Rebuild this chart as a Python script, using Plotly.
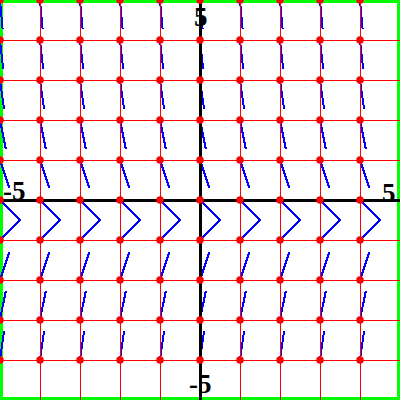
import plotly.graph_objects as go
import numpy as np

# Data
x_points = [-5, -4, -3, -2, -1, 0, 1, 2, 3, 4]
y_points = [5, 4, 3, 2, 1, 0, -1, -2, -3, -4]
slopes = [-11, -9, -7, -5, -3, -1, 1, 3, 5, 7]   # slope of field at each y row
seg_len = 0.74
grid_ticks = [-4, -3, -2, -1, 1, 2, 3, 4]
axis_labels = [("5", 0, 5), ("5", 5, 0), ("-5", -5, 0), ("-5", 0, -5)]

fig = go.Figure()

# direction-field segments
sx, sy = [], []
for y, m in zip(y_points, slopes):
    d = seg_len / np.sqrt(1 + m * m)
    for x in x_points:
        sx += [x, x + d, None]
        sy += [y, y + m * d, None]
fig.add_trace(go.Scatter(x=sx, y=sy, mode="lines",
                         line=dict(color="#0000ff", width=2), hoverinfo="skip"))

# red grid lines (drawn above the segments)
gx, gy = [], []
for t in grid_ticks:
    gx += [t, t, None]; gy += [-5, 5, None]
    gx += [-5, 5, None]; gy += [t, t, None]
fig.add_trace(go.Scatter(x=gx, y=gy, mode="lines",
                         line=dict(color="#ff0000", width=1), hoverinfo="skip"))

# black axes
fig.add_trace(go.Scatter(x=[-5, 5, None, 0, 0], y=[0, 0, None, -5, 5], mode="lines",
                         line=dict(color="#000000", width=3), hoverinfo="skip"))

# red dots
px = [x for y in y_points for x in x_points]
py = [y for y in y_points for x in x_points]
fig.add_trace(go.Scatter(x=px, y=py, mode="markers",
                         marker=dict(color="#ff0000", size=7.5, line=dict(width=0)),
                         hoverinfo="skip"))

font = dict(family="Liberation Serif", size=27, color="#000000", weight="bold")
anchors = {(0, 5): ("center", "top", 1, 0), (5, 0): ("right", "middle", -2, 7),
           (-5, 0): ("left", "middle", 1, 9), (0, -5): ("center", "bottom", 0, -1)}
for txt, x, y in axis_labels:
    xa, ya, dx, dy = anchors[(x, y)]
    fig.add_annotation(x=x, y=y, text=txt, showarrow=False, xanchor=xa, yanchor=ya,
                       xshift=dx, yshift=dy, font=font)

fig.add_shape(type="rect", xref="paper", yref="paper", x0=0, y0=0, x1=1, y1=1,
              line=dict(color="#00ff00", width=6), layer="below")

fig.update_layout(width=400, height=400, margin=dict(l=0, r=0, t=0, b=0),
                  plot_bgcolor="white", paper_bgcolor="white", showlegend=False)
fig.update_xaxes(range=[-5, 5], visible=False)
fig.update_yaxes(range=[-5, 5], visible=False)

post = ("document.body.style.margin='0';"
        "var s=document.createElement('style');"
        "s.innerHTML='.js-line{shape-rendering:crispEdges}';"
        "document.head.appendChild(s);")
fig.write_html("out.html", config={"displayModeBar": False}, post_script=post)
